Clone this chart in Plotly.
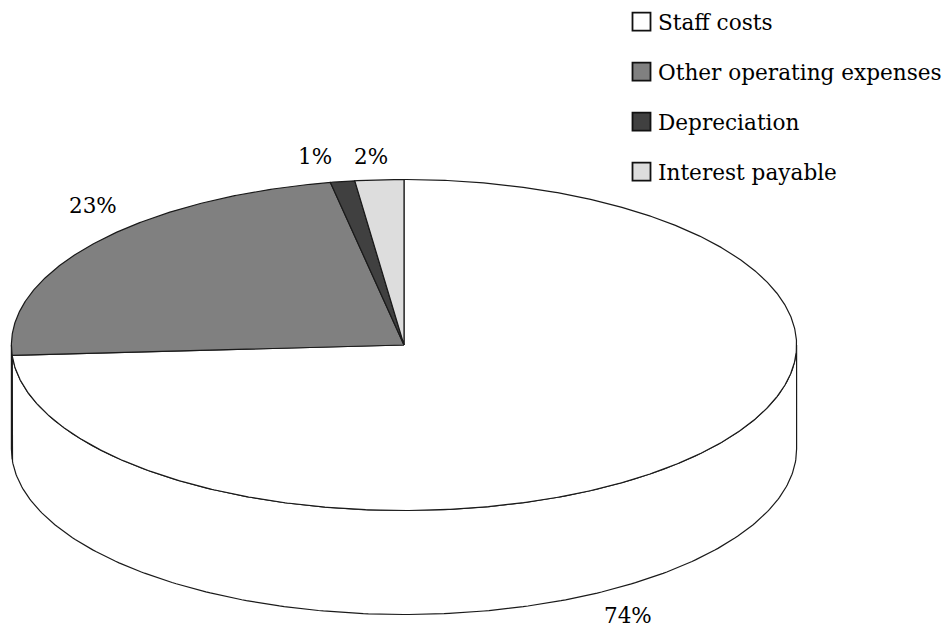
import numpy as np
import plotly.graph_objects as go

# Cost breakdown (percent of total)
CATEGORIES = ["Staff costs", "Other operating expenses", "Depreciation", "Interest payable"]
SHARES = [74, 23, 1, 2]
LABELS = ["74%", "23%", "1%", "2%"]

# Styling
COLORS = ["#ffffff", "#808080", "#404040", "#dddddd"]
EDGE = "#1a1a1a"
FONT = "DejaVu Serif"

# 3D pie geometry in pixel units (axes span the whole canvas)
W, H = 948, 627
CX, CY, RX, RY, DEPTH = 404.0, 345.0, 392.6, 165.5, 104.0

# Label anchor positions for the percentage texts
LABEL_POS = [(628, 615), (93, 205), (315, 156), (371, 156)]


def rim(theta_deg, drop=0.0):
    th = np.radians(theta_deg)
    return CX + RX * np.sin(th), CY - RY * np.cos(th) + drop


total = float(sum(SHARES))
bounds = np.concatenate([[0.0], np.cumsum(SHARES) / total * 360.0])

fig = go.Figure()

# Side walls: only the front half (3 o'clock -> 9 o'clock, clockwise) is visible
for i, color in enumerate(COLORS):
    lo, hi = max(bounds[i], 90.0), min(bounds[i + 1], 270.0)
    if hi <= lo:
        continue
    th = np.linspace(lo, hi, 240)
    tx, ty = rim(th)
    bx, by = rim(th[::-1], DEPTH)
    xs = np.concatenate([tx, bx, tx[:1]])
    ys = np.concatenate([ty, by, ty[:1]])
    fig.add_trace(go.Scatter(x=xs, y=ys, mode="lines", fill="toself",
                             fillcolor=color, line=dict(color=EDGE, width=1.2),
                             hoverinfo="skip", showlegend=False))

# Top faces of the slices
for i, (name, color) in enumerate(zip(CATEGORIES, COLORS)):
    th = np.linspace(bounds[i], bounds[i + 1], max(8, int((bounds[i + 1] - bounds[i]) * 3)))
    ax_, ay_ = rim(th)
    xs = np.concatenate([[CX], ax_, [CX]])
    ys = np.concatenate([[CY], ay_, [CY]])
    fig.add_trace(go.Scatter(x=xs, y=ys, mode="lines", fill="toself",
                             fillcolor=color, line=dict(color=EDGE, width=1.2),
                             name=name, hoverinfo="name", showlegend=False))

annotations = []
for text, (lx, ly) in zip(LABELS, LABEL_POS):
    annotations.append(dict(x=lx, y=ly, xref="x", yref="y", text=text, showarrow=False,
                            xanchor="center", yanchor="middle",
                            font=dict(family=FONT, size=21.5, color="#000000")))

# Legend drawn as keyed squares plus text
shapes = []
LEG_X, LEG_Y0, LEG_STEP, KEY = 632.5, 21.7, 50, 18
for k, (name, color) in enumerate(zip(CATEGORIES, COLORS)):
    yc = LEG_Y0 + k * LEG_STEP
    shapes.append(dict(type="rect", xref="x", yref="y",
                       x0=LEG_X, x1=LEG_X + KEY, y0=yc - KEY / 2, y1=yc + KEY / 2,
                       fillcolor=color, line=dict(color="#111111", width=1.8)))
    annotations.append(dict(x=LEG_X + KEY + 5, y=yc + 1, xref="x", yref="y", text=name,
                            showarrow=False, xanchor="left", yanchor="middle",
                            font=dict(family=FONT, size=21.6, color="#000000")))

fig.update_layout(
    width=W, height=H, autosize=False,
    margin=dict(l=0, r=0, t=0, b=0, pad=0),
    paper_bgcolor="#ffffff", plot_bgcolor="#ffffff",
    xaxis=dict(range=[0, W], visible=False, fixedrange=True),
    yaxis=dict(range=[H, 0], visible=False, fixedrange=True),
    annotations=annotations, shapes=shapes, showlegend=False,
)

fig.write_html("out.html")
